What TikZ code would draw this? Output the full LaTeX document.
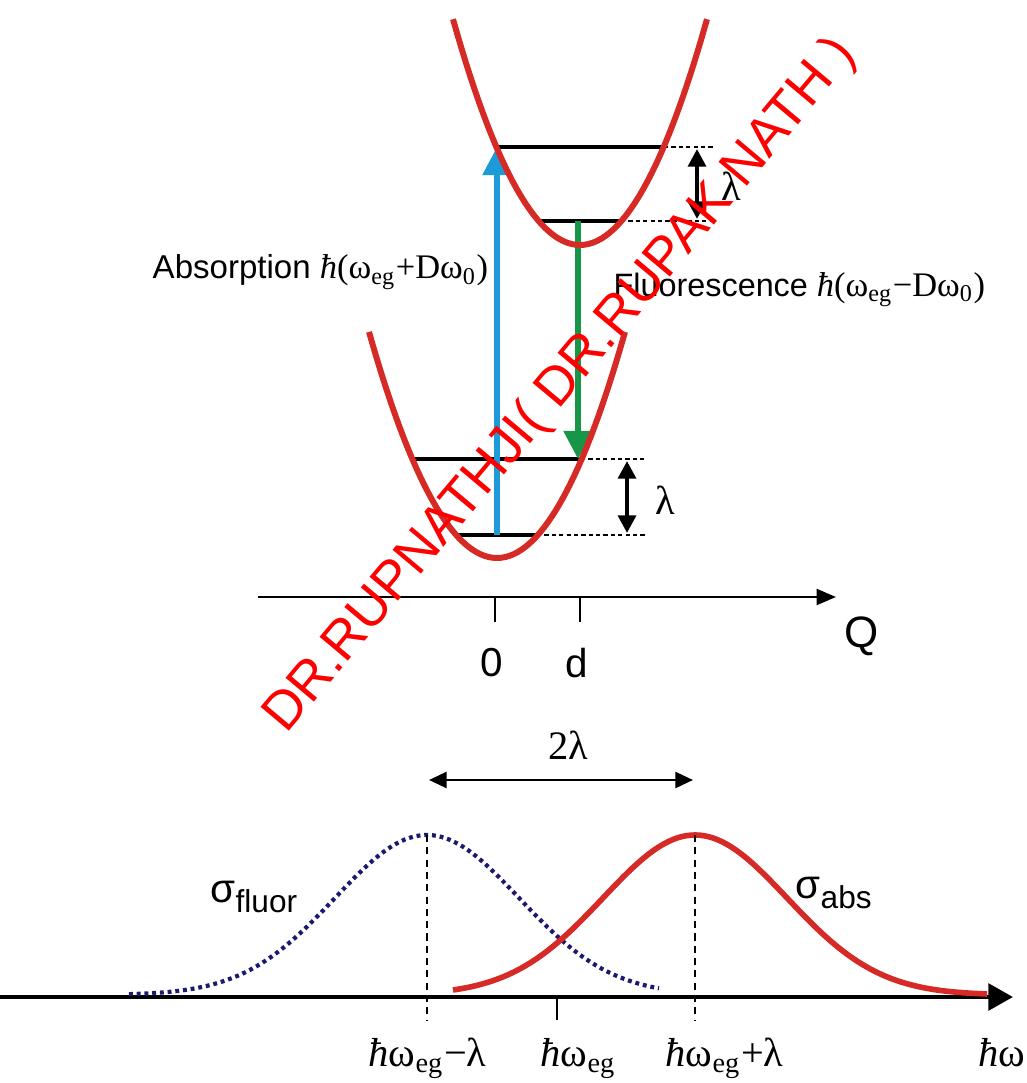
\documentclass[tikz,border=0pt]{standalone}
\usepackage{fontspec}
\setmainfont{Liberation Sans}
\newfontfamily\timesf{Liberation Serif}
\usetikzlibrary{arrows.meta}
\definecolor{wellred}{RGB}{214,42,38}
\definecolor{absblue}{RGB}{28,155,216}
\definecolor{flgreen}{RGB}{24,150,72}
\definecolor{fldots}{RGB}{28,26,110}
\newcommand{\hb}{{\timesf\itshape ħ}}
\newcommand{\om}{{\timesf ω}}
\begin{document}
\begin{tikzpicture}[x=0.01cm,y=-0.01cm,
    well/.style={wellred,line width=1.7pt},
    vlevel/.style={line width=0.9pt},
    guide/.style={line width=0.5pt,dash pattern=on 1.2pt off 0.9pt},
    peakline/.style={line width=0.5pt,dash pattern=on 2pt off 1.5pt},
    lamarrow/.style={line width=1.2pt,{Triangle[length=5pt,width=5pt]}-{Triangle[length=5pt,width=5pt]}},
    trans/.style={line width=1.5pt,-{Triangle[length=8pt,width=8pt]}},
    axis/.style={line width=0.7pt,-{Triangle[length=5.5pt,width=4.5pt]}},
    sans/.style={font=\fontsize{10.5}{12}\selectfont},
    serif/.style={font=\fontsize{11.5}{13}\selectfont\timesf}]
  \useasboundingbox (0,0) rectangle (1026,1083);
  % energy levels
  \coordinate (e1l) at (496,147); \coordinate (e1r) at (664,147);
  \coordinate (e0l) at (539,221); \coordinate (e0r) at (621,221);
  \coordinate (g1l) at (413,459); \coordinate (g1r) at (581,459);
  \coordinate (g0l) at (456,535); \coordinate (g0r) at (537,535);
  \draw[vlevel] (e1l) -- (e1r);
  \draw[vlevel] (e0l) -- (e0r);
  \draw[vlevel] (g1l) -- (g1r);
  \draw[vlevel] (g0l) -- (g0r);
  % reorganisation energy
  \coordinate (du1) at (715,147); \coordinate (du0) at (715,221);
  \coordinate (dl1) at (645,459); \coordinate (dl0) at (645,535);
  \draw[guide] (e1r) -- (du1);
  \draw[guide] (e0r) -- (du0);
  \draw[guide] (g1r) -- (dl1);
  \draw[guide] (g0r) -- (dl0);
  \coordinate (lu1) at (697,149); \coordinate (lu0) at (697,219);
  \coordinate (ll1) at (627,461); \coordinate (ll0) at (627,533);
  \draw[lamarrow] (lu1) -- (lu0);
  \draw[lamarrow] (ll1) -- (ll0);
  \node[serif] (lamup) at (731,186) {λ};
  \node[serif] (lamdown) at (665,500) {λ};
  % transitions
  \coordinate (absfoot) at (497,535); \coordinate (abshead) at (497,147);
  \coordinate (flfoot) at (578,221); \coordinate (flhead) at (578,459);
  \draw[trans,absblue] (absfoot) -- (abshead);
  \draw[trans,flgreen] (flfoot) -- (flhead);
  \node[anchor=west,inner sep=0pt] (abslabel) at (152,272)
    {\fontsize{9.4}{12}\selectfont Absorption {\fontsize{9.8}{12}\selectfont\hb{\timesf(\om\textsubscript{eg}+D\om\textsubscript{0})}}};
  \node[anchor=west,inner sep=0pt] (fllabel) at (613,290)
    {\fontsize{9.2}{12}\selectfont Fluorescence {\fontsize{9.8}{12}\selectfont\hb{\timesf(\om\textsubscript{eg}−D\om\textsubscript{0})}}};
  % potential wells
  \draw[well] plot[domain=-127:127,samples=61] ({580+\x},{245-1.4*(\x/10)^2});
  \draw[well] plot[domain=-128:128,samples=61] ({497+\x},{558-1.38*(\x/10)^2});
  % Q axis
  \coordinate (qs) at (258,597); \coordinate (qe) at (836,597);
  \draw[axis] (qs) -- (qe);
  \foreach \t/\n in {495/0,580/d} {
    \draw[line width=0.7pt] (\t,597) -- (\t,622);
    \node[sans,font=\fontsize{11.5}{13}\selectfont] (t\n) at (\t-3,663) {\n};
  }
  \node[font=\fontsize{12.5}{14}\selectfont] (qlabel) at (862,636) {Q};
  % spectra
  \coordinate (ws) at (0,997); \coordinate (we) at (1013,997);
  \draw[line width=1.3pt,-{Triangle[length=7pt,width=7.5pt]}] (ws) -- (we);
  \draw[fldots,line width=1.2pt,dash pattern=on 1.1pt off 1.1pt]
    plot[domain=-298:232,samples=120] ({427+\x},{995-160*exp(-0.5*(\x/92)^2)});
  \draw[wellred,line width=1.6pt]
    plot[domain=-242:292,samples=120] ({695+\x},{995-160*exp(-0.5*(\x/92)^2)});
  \coordinate (fpk) at (427,835); \coordinate (apk) at (695,835);
  \coordinate (fbot) at (427,1020); \coordinate (abot) at (695,1020);
  \draw[peakline] (fpk) -- (fbot);
  \draw[peakline] (apk) -- (abot);
  \draw[line width=0.7pt] (557,997) -- (557,1020);
  \coordinate (twol) at (429,780); \coordinate (twor) at (693,780);
  \draw[line width=0.8pt,{Triangle[length=5pt,width=4.5pt]}-{Triangle[length=5pt,width=4.5pt]}] (twol) -- (twor);
  \node[serif] (twolam) at (568,745) {2λ};
  \node[anchor=west,inner sep=0pt] (sfl) at (210,897)
    {\fontsize{11.5}{13}\selectfont σ\raisebox{-0.45ex}{\fontsize{9}{11}\selectfont fluor}};
  \node[anchor=west,inner sep=0pt] (sab) at (795,893)
    {\fontsize{11.5}{13}\selectfont σ\raisebox{-0.45ex}{\fontsize{9}{11}\selectfont abs}};
  \node[serif,anchor=base west,inner sep=0pt] (wlo) at (368,1066) {\hb ω\textsubscript{eg}−λ};
  \node[serif,anchor=base west,inner sep=0pt] (wmid) at (540,1066) {\hb ω\textsubscript{eg}};
  \node[serif,anchor=base west,inner sep=0pt] (whi) at (665,1066) {\hb ω\textsubscript{eg}+λ};
  \node[serif,anchor=base west,inner sep=0pt] (waxis) at (978,1066) {\hb ω};
  % watermark
  \node[red,rotate=50,font=\fontsize{15.3}{18}\selectfont] (wmark) at (561,386)
    {DR.RUPNATHJI( DR.RUPAK NATH )};
\end{tikzpicture}
\end{document}
